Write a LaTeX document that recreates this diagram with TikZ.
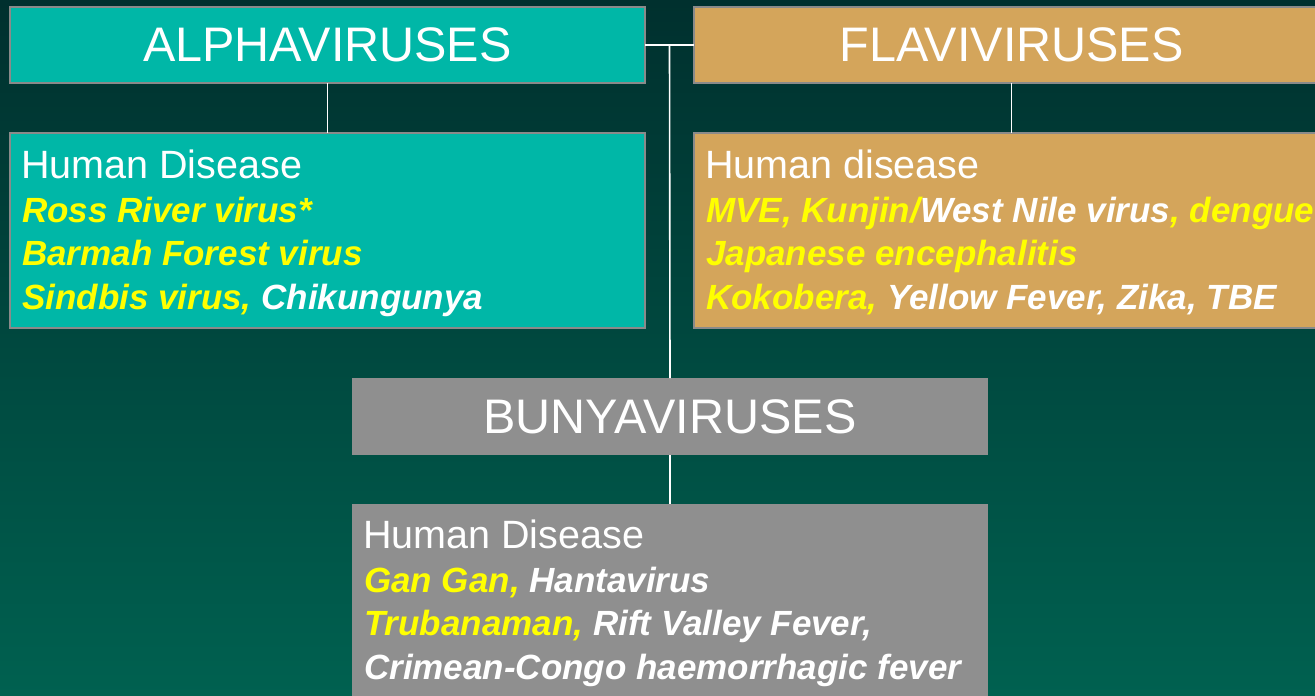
\documentclass[tikz,border=0pt]{standalone}
\usepackage{fontspec}
\setmainfont{Liberation Sans}
\definecolor{bgtop}{HTML}{00302E}
\definecolor{bgmid}{HTML}{00544A}
\definecolor{bgbot}{HTML}{006150}
\definecolor{tealbox}{HTML}{00B7A7}
\definecolor{tanbox}{HTML}{D4A55B}
\definecolor{graybox}{HTML}{8F8F8F}
\definecolor{bordgray}{HTML}{8A8A8A}
\definecolor{yel}{HTML}{FFFF00}
\begin{document}
\begin{tikzpicture}[x=1pt,y=-1pt,
  hdr/.style={rectangle, inner sep=0pt, outer sep=0pt, anchor=north west,
    minimum width=635pt, minimum height=76pt, draw=bordgray, line width=1.8pt,
    text=white, font=\fontsize{48.5}{56}\selectfont},
  bodybox/.style={rectangle, inner sep=0pt, outer sep=0pt, anchor=north west,
    minimum width=635pt, minimum height=195pt, draw=bordgray, line width=1.8pt},
  ln/.style={anchor=base west, inner sep=0pt, text=white,
    font=\fontsize{35}{44}\selectfont\bfseries\itshape},
  lnh/.style={anchor=base west, inner sep=0pt, text=white,
    font=\fontsize{39.5}{44}\selectfont},
  conn/.style={draw=white, line width=1.6pt}]
\useasboundingbox (0,0) rectangle (1315,696);
\clip (0,0) rectangle (1315,696);
\shade[top color=bgtop, middle color=bgmid, bottom color=bgbot] (0,0) rectangle (1315,696);

% header boxes
\node[hdr, fill=tealbox] (ah) at (10,7) {ALPHAVIRUSES};
\node[hdr, fill=tanbox] (fh) at (694,7) {FLAVIVIRUSES};
\node[hdr, fill=graybox, draw=none, minimum width=636pt, minimum height=77pt] (bh) at (352,378) {BUNYAVIRUSES};

% body boxes
\node[bodybox, fill=tealbox] (ab) at (10,133) {};
\node[bodybox, fill=tanbox] (fb) at (694,133) {};
\node[bodybox, fill=graybox, draw=none, minimum width=636pt, minimum height=210pt] (bb) at (352,504) {};

% connectors
\coordinate (j) at (669.5,45);
\draw[conn] (ah.east) -- (fh.west);
\draw[conn] (j) -- (bh.north);
\draw[conn] (ah.south) -- (ab.north);
\draw[conn] (fh.south) -- (fb.north);
\draw[conn] (bh.south) -- (bb.north);

% alpha text
\node[lnh] (a1) at (21,178) {Human Disease};
\node[ln] (a2) at (22,222) {\color{yel}Ross River virus*};
\node[ln] (a3) at (22,265.5) {\color{yel}Barmah Forest virus};
\node[ln] (a4) at (22,309) {{\color{yel}Sindbis virus,} Chikungunya};

% flavi text
\node[lnh] (f1) at (705,178) {Human disease};
\node[ln] (f2) at (706,222) {{\color{yel}MVE, Kunjin/}West Nile virus{\color{yel}, dengue}};
\node[ln] (f3) at (706,265.5) {\color{yel}Japanese encephalitis};
\node[ln] (f4) at (706,309) {{\color{yel}Kokobera,} Yellow Fever, Zika, TBE};

% bunya text
\node[lnh] (b1) at (363,548) {Human Disease};
\node[ln] (b2) at (364,592) {{\color{yel}Gan Gan,} Hantavirus};
\node[ln] (b3) at (364,635.5) {{\color{yel}Trubanaman,} Rift Valley Fever,};
\node[ln] (b4) at (364,679) {Crimean-Congo haemorrhagic fever};
\end{tikzpicture}
\end{document}
